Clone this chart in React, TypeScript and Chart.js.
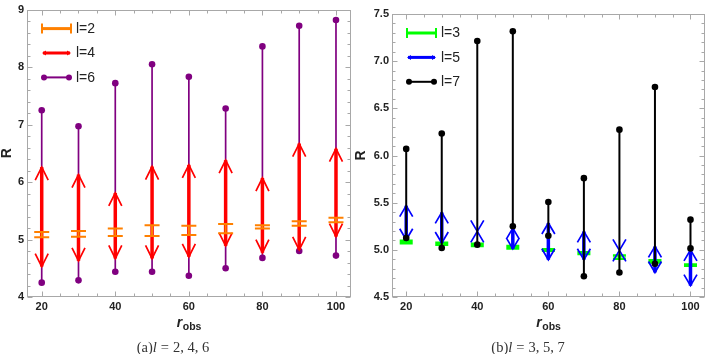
import React, { useEffect, useRef } from "react";
import { Chart, registerables } from "chart.js";

Chart.register(...registerables);

// ---------- data ----------
const rObs = [20, 30, 40, 50, 60, 70, 80, 90, 100];
const xTickLabels = [20, 40, 60, 80, 100];
const yTicksA = [4, 5, 6, 7, 8, 9];
const yTicksB = [4.5, 5, 5.5, 6, 6.5, 7, 7.5];

// panel (a)
const l2Low = [5.04, 5.05, 5.06, 5.06, 5.08, 5.11, 5.19, 5.24, 5.3];
const l2High = [5.13, 5.15, 5.19, 5.25, 5.24, 5.27, 5.25, 5.32, 5.38];
const l4Low = [4.53, 4.63, 4.67, 4.67, 4.7, 4.89, 4.77, 4.82, 5.05];
const l4High = [6.26, 6.13, 5.81, 6.27, 6.3, 6.38, 6.07, 6.67, 6.58];
const l6Low = [4.25, 4.29, 4.44, 4.44, 4.37, 4.5, 4.68, 4.8, 4.72];
const l6High = [7.25, 6.97, 7.72, 8.05, 7.83, 7.28, 8.36, 8.72, 8.82];

// panel (b)
const l3Low = [5.07, 5.055, 5.04, 5.015, 4.99, 4.955, 4.905, 4.865, 4.83];
const l3High = [5.095, 5.075, 5.065, 5.04, 5.005, 4.975, 4.94, 4.89, 4.845];
const l5Low = [5.107, 5.072, 5.195, 5.01, 4.895, 4.895, 4.994, 4.76, 4.62];
const l5High = [5.468, 5.397, 5.195, 5.23, 5.284, 5.195, 4.994, 5.036, 5.0];
const l7Low = [5.125, 5.02, 5.055, 5.25, 5.15, 4.72, 4.76, 4.853, 5.015];
const l7High = [6.07, 6.234, 7.214, 7.316, 5.507, 5.76, 6.274, 6.726, 5.32];

type Kind = "bar" | "arrow" | "dots";
interface Series {
  label: string;
  kind: Kind;
  color: string;
  low: number[];
  high: number[];
  over: boolean;
  z: number;
}
interface Spec {
  series: Series[];
  yMin: number;
  yMax: number;
  yTicks: number[];
  yMinor: number;
  yDecimals: number;
  yAxisWidth: number;
  padTop: number;
  padRight: number;
}

const specA: Spec = {
  series: [
    { label: "l=2", kind: "bar", color: "#ff8000", low: l2Low, high: l2High, over: true, z: 2 },
    { label: "l=4", kind: "arrow", color: "#ff0000", low: l4Low, high: l4High, over: true, z: 1 },
    { label: "l=6", kind: "dots", color: "#800080", low: l6Low, high: l6High, over: false, z: 0 },
  ],
  yMin: 4,
  yMax: 9,
  yTicks: yTicksA,
  yMinor: 0.2,
  yDecimals: 0,
  yAxisWidth: 27,
  padTop: 6,
  padRight: 2,
};

const specB: Spec = {
  series: [
    { label: "l=3", kind: "bar", color: "#00ff00", low: l3Low, high: l3High, over: false, z: 0 },
    { label: "l=5", kind: "arrow", color: "#0000ff", low: l5Low, high: l5High, over: false, z: 1 },
    { label: "l=7", kind: "dots", color: "#000000", low: l7Low, high: l7High, over: true, z: 2 },
  ],
  yMin: 4.5,
  yMax: 7.5,
  yTicks: yTicksB,
  yMinor: 0.1,
  yDecimals: 1,
  yAxisWidth: 38,
  padTop: 14,
  padRight: 1,
};

const SANS = "'Liberation Sans', Arial, sans-serif";
const TEXT = "#222";

function Panel({ left, spec }: { left: number; spec: Spec }) {
  const ref = useRef<HTMLCanvasElement>(null);
  useEffect(() => {
    const canvas = ref.current!;
    const s = spec;
    const dotSeries = s.series.filter((se) => se.kind === "dots");
    const datasets: any[] = dotSeries.map((se) => ({
      type: "line",
      label: se.label,
      data: rObs.flatMap((x, i) => [
        { x, y: se.low[i] },
        { x, y: se.high[i] },
        { x, y: null },
      ]),
      borderColor: se.color,
      backgroundColor: se.color,
      borderWidth: se.color === "#000000" ? 2 : 1.7,
      pointRadius: 3.3,
      pointHoverRadius: 3.3,
      pointBorderWidth: 0,
      spanGaps: false,
      tension: 0,
    }));

    const drawSeries = (chart: any, se: Series) => {
      const { ctx, scales } = chart;
      const xs = scales.x;
      const ys = scales.y;
      ctx.save();
      ctx.strokeStyle = se.color;
      ctx.lineCap = "butt";
      rObs.forEach((xv, i) => {
        const px = xs.getPixelForValue(xv);
        const pLo = ys.getPixelForValue(se.low[i]);
        const pHi = ys.getPixelForValue(se.high[i]);
        if (se.kind === "bar") {
          const hw = se.color === "#00ff00" ? 6.5 : 7.5;
          ctx.lineWidth = se.color === "#00ff00" ? 2.5 : 2;
          ctx.beginPath();
          ctx.moveTo(px, pLo);
          ctx.lineTo(px, pHi);
          ctx.moveTo(px - hw, pLo);
          ctx.lineTo(px + hw, pLo);
          ctx.moveTo(px - hw, pHi);
          ctx.lineTo(px + hw, pHi);
          ctx.stroke();
        } else if (se.kind === "arrow") {
          const hw = 6.5;
          const hl = se.color === "#ff0000" ? 13 : 11;
          ctx.lineWidth = 3.5;
          ctx.beginPath();
          ctx.moveTo(px, pLo);
          ctx.lineTo(px, pHi);
          ctx.stroke();
          ctx.lineWidth = 1.7;
          ctx.beginPath();
          ctx.moveTo(px - hw, pHi + hl);
          ctx.lineTo(px, pHi);
          ctx.lineTo(px + hw, pHi + hl);
          ctx.moveTo(px - hw, pLo - hl);
          ctx.lineTo(px, pLo);
          ctx.lineTo(px + hw, pLo - hl);
          ctx.stroke();
        }
      });
      ctx.restore();
    };

    const plugin = {
      id: "rangeMarks",
      beforeDatasetsDraw(chart: any) {
        const { ctx, chartArea: a, scales } = chart;
        const xs = scales.x;
        const ys = scales.y;
        ctx.save();
        ctx.strokeStyle = "#a8a8a8";
        ctx.lineWidth = 1;
        const L = Math.round(a.left) + 0.5;
        const R = Math.round(a.right) - 0.5;
        const T = Math.round(a.top) + 0.5;
        const B = Math.round(a.bottom) - 0.5;
        ctx.strokeRect(L, T, R - L, B - T);
        ctx.beginPath();
        // x ticks (minor every 5)
        for (let k = 0; ; k++) {
          const v = 20 + k * 5;
          if (v > 100) break;
          const len = xTickLabels.includes(v) ? 5 : 3;
          const p = Math.round(xs.getPixelForValue(v)) + 0.5;
          ctx.moveTo(p, B);
          ctx.lineTo(p, B - len);
          ctx.moveTo(p, T);
          ctx.lineTo(p, T + len);
        }
        // y ticks
        for (let k = 0; ; k++) {
          const v = s.yMin + k * s.yMinor;
          if (v > s.yMax + 1e-6) break;
          const major = s.yTicks.some((t) => Math.abs(t - v) < 1e-6);
          const len = major ? 5 : 3;
          const p = Math.round(ys.getPixelForValue(v)) + 0.5;
          ctx.moveTo(L, p);
          ctx.lineTo(L + len, p);
          ctx.moveTo(R, p);
          ctx.lineTo(R - len, p);
        }
        ctx.stroke();
        ctx.restore();
        s.series
          .filter((se) => !se.over && se.kind !== "dots")
          .sort((p, q) => p.z - q.z)
          .forEach((se) => drawSeries(chart, se));
      },
      afterDatasetsDraw(chart: any) {
        s.series
          .filter((se) => se.over && se.kind !== "dots")
          .sort((p, q) => p.z - q.z)
          .forEach((se) => drawSeries(chart, se));
      },
      afterDraw(chart: any) {
        const { ctx, chartArea: a } = chart;
        ctx.save();
        // legend
        s.series.forEach((se, i) => {
          const y = a.top + 19 + 24.4 * i;
          const x0 = a.left + 15;
          const x1 = a.left + 44;
          ctx.strokeStyle = se.color;
          ctx.fillStyle = se.color;
          if (se.kind === "bar") {
            ctx.lineWidth = 3;
            ctx.beginPath();
            ctx.moveTo(x0, y);
            ctx.lineTo(x1, y);
            ctx.stroke();
            ctx.lineWidth = 2;
            ctx.beginPath();
            ctx.moveTo(x0, y - 5);
            ctx.lineTo(x0, y + 5);
            ctx.moveTo(x1, y - 5);
            ctx.lineTo(x1, y + 5);
            ctx.stroke();
          } else if (se.kind === "arrow") {
            ctx.lineWidth = 3;
            ctx.beginPath();
            ctx.moveTo(x0 + 1, y);
            ctx.lineTo(x1 - 1, y);
            ctx.stroke();
            ctx.beginPath();
            ctx.moveTo(x0, y);
            ctx.lineTo(x0 + 4, y - 2.5);
            ctx.lineTo(x0 + 4, y + 2.5);
            ctx.closePath();
            ctx.moveTo(x1, y);
            ctx.lineTo(x1 - 4, y - 2.5);
            ctx.lineTo(x1 - 4, y + 2.5);
            ctx.closePath();
            ctx.fill();
          } else {
            ctx.lineWidth = 2;
            ctx.beginPath();
            ctx.moveTo(x0 + 2, y);
            ctx.lineTo(x1 - 2, y);
            ctx.stroke();
            ctx.beginPath();
            ctx.arc(x0 + 2, y, 3, 0, Math.PI * 2);
            ctx.arc(x1 - 2, y, 3, 0, Math.PI * 2);
            ctx.fill();
          }
          ctx.fillStyle = TEXT;
          ctx.font = `14px ${SANS}`;
          ctx.textAlign = "left";
          ctx.textBaseline = "middle";
          ctx.fillText(se.label, a.left + 49, y + 0.5);
        });
        // y title
        ctx.fillStyle = TEXT;
        ctx.save();
        ctx.translate(7, (a.top + a.bottom) / 2);
        ctx.rotate(-Math.PI / 2);
        ctx.font = `bold 14px ${SANS}`;
        ctx.textAlign = "center";
        ctx.textBaseline = "middle";
        ctx.fillText("R", 0, 0);
        ctx.restore();
        // x title r_obs
        const fR = `italic bold 14px ${SANS}`;
        const fS = `bold 10.5px ${SANS}`;
        ctx.font = fR;
        const wR = ctx.measureText("r").width;
        ctx.font = fS;
        const wS = ctx.measureText("obs").width;
        const cx = (a.left + a.right) / 2;
        const sx = cx - (wR + wS) / 2;
        ctx.textAlign = "left";
        ctx.textBaseline = "alphabetic";
        ctx.font = fR;
        ctx.fillText("r", sx, 327);
        ctx.font = fS;
        ctx.fillText("obs", sx + wR + 0.5, 330);
        ctx.restore();
      },
    };

    const chart = new Chart(canvas, {
      type: "scatter",
      data: { datasets },
      options: {
        responsive: false,
        maintainAspectRatio: false,
        animation: false,
        events: [],
        layout: { padding: { left: 0, right: s.padRight, top: s.padTop, bottom: 0 } },
        plugins: { legend: { display: false }, tooltip: { enabled: false } },
        scales: {
          x: {
            type: "linear",
            min: 16,
            max: 104,
            grid: { display: false, drawTicks: false },
            border: { display: false },
            ticks: {
              autoSkip: false,
              maxRotation: 0,
              padding: 3,
              color: TEXT,
              font: { family: SANS, size: 11, weight: "bold" },
              callback: (v: any) => String(v),
            },
            afterBuildTicks: (sc: any) => {
              sc.ticks = xTickLabels.map((v) => ({ value: v }));
            },
            afterFit: (sc: any) => {
              sc.height = 57;
            },
          },
          y: {
            type: "linear",
            min: s.yMin,
            max: s.yMax,
            grid: { display: false, drawTicks: false },
            border: { display: false },
            ticks: {
              autoSkip: false,
              padding: 3,
              color: TEXT,
              font: { family: SANS, size: 11, weight: "bold" },
              callback: (v: any) => Number(v).toFixed(s.yDecimals),
            },
            afterBuildTicks: (sc: any) => {
              sc.ticks = s.yTicks.map((v) => ({ value: v }));
            },
            afterFit: (sc: any) => {
              sc.width = s.yAxisWidth;
            },
          },
        },
      } as any,
      plugins: [plugin],
    });
    return () => chart.destroy();
  }, [spec]);
  return (
    <canvas
      ref={ref}
      width={354}
      height={354}
      style={{ position: "absolute", left, top: 0, width: 354, height: 354 }}
    />
  );
}

function Caption({ center, tag, values }: { center: number; tag: string; values: string }) {
  return (
    <div
      style={{
        position: "absolute",
        left: center - 100,
        top: 339,
        width: 200,
        textAlign: "center",
        fontFamily: "'Liberation Serif', 'Times New Roman', serif",
        fontSize: 14.5,
        lineHeight: "16px",
        color: "#333",
        whiteSpace: "nowrap",
      }}
    >
      <span>({tag})</span>
      <i>l</i>
      <span style={{ margin: "0 4px" }}>=</span>
      <span>{values}</span>
    </div>
  );
}

export default function App() {
  return (
    <div style={{ position: "absolute", left: 0, top: 0, width: 708, height: 354, background: "#fff", overflow: "hidden" }}>
      <Panel left={0} spec={specA} />
      <Panel left={354} spec={specB} />
      <Caption center={173} tag="a" values="2, 4, 6" />
      <Caption center={528} tag="b" values="3, 5, 7" />
    </div>
  );
}
